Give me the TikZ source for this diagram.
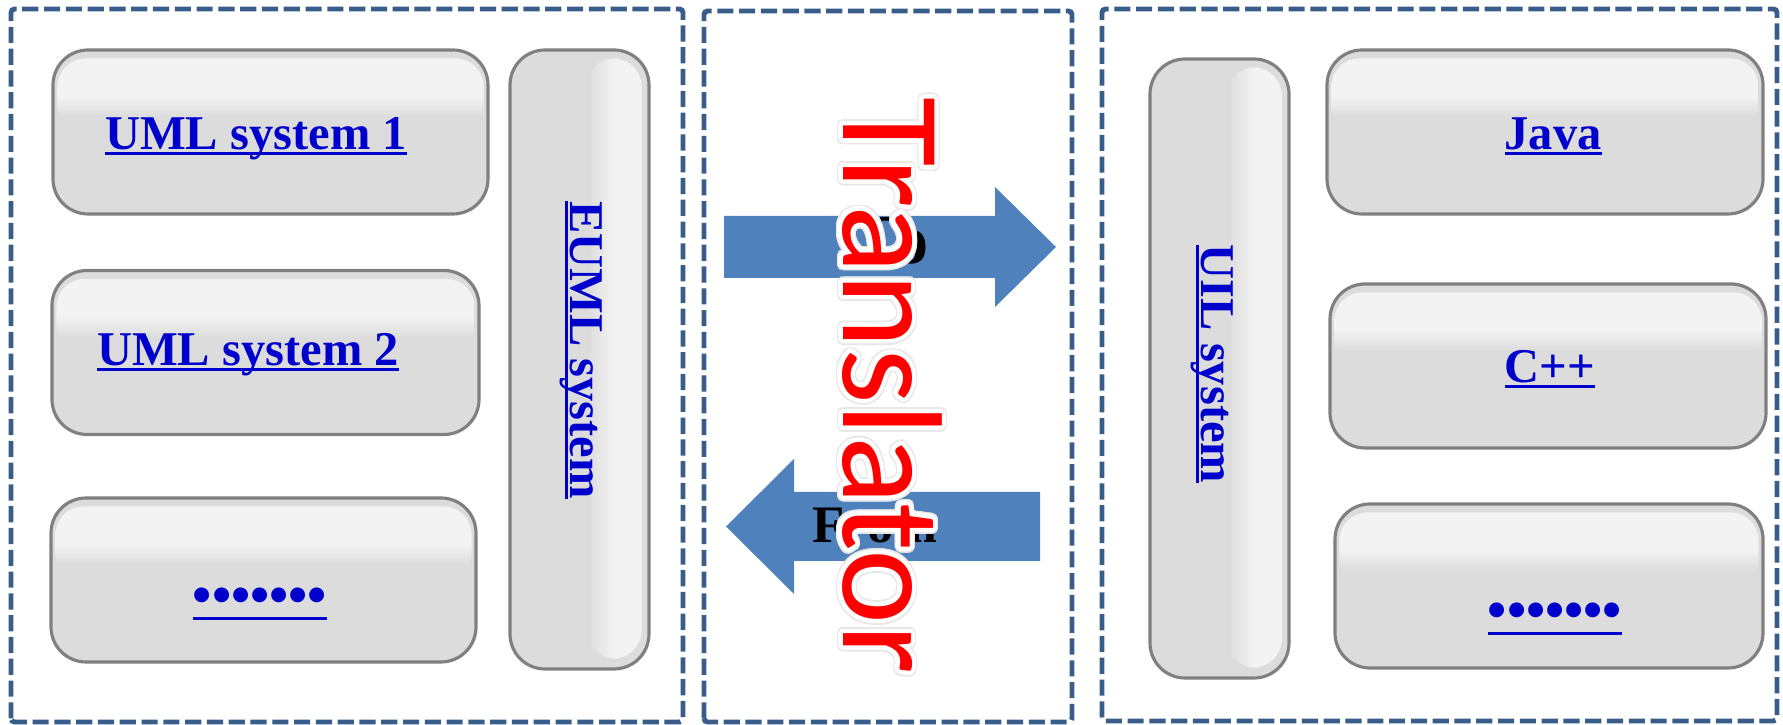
\documentclass[tikz,border=0pt]{standalone}
\usepackage{fontspec}
\setmainfont{Liberation Serif}
\newfontfamily\trfont{Carlito}
\usepackage{contour}
\contourlength{1.2pt}
\contournumber{32}
\definecolor{boxfill}{RGB}{220,220,220}
\definecolor{glosstop}{RGB}{243,243,243}
\definecolor{boxline}{RGB}{128,128,128}
\definecolor{frameblue}{RGB}{56,93,138}
\definecolor{arrowblue}{RGB}{79,129,189}
\definecolor{linkblue}{RGB}{0,0,204}
\pgfdeclareverticalshading{glossv}{100bp}{color(0bp)=(boxfill); color(36bp)=(boxfill); color(50bp)=(glosstop); color(100bp)=(glosstop)}
\pgfdeclarehorizontalshading{glossh}{100bp}{color(0bp)=(boxfill); color(26bp)=(boxfill); color(50bp)=(glosstop); color(100bp)=(glosstop)}
\newcommand\linktext[1]{\setbox0\hbox{#1}\rlap{\rule[-0.11em]{\wd0}{0.06em}}\box0}
\tikzset{
  sysbox/.style={draw=boxline, line width=0.9pt, fill=boxfill, rounded corners=0.35cm, inner sep=0pt},
  widebox/.style={sysbox, minimum width=4.35cm, minimum height=1.64cm},
  tallbox/.style={sysbox, minimum width=1.39cm, minimum height=6.19cm},
  frame/.style={draw=frameblue, line width=1.4pt, dash pattern=on 4.6pt off 1.6pt, rounded corners=1pt},
  link/.style={text=linkblue, font=\fontsize{13.8}{16}\selectfont\bfseries, inner sep=0pt, anchor=base},
  dots/.style={link, font=\fontsize{15.6}{18}\selectfont\bfseries}
}
\begin{document}
\begin{tikzpicture}
        \useasboundingbox (0,0) rectangle (17.83,7.25);
        %% frames
        \draw[frame] (0.11,0.03) rectangle (6.83,7.16);
        \draw[frame] (7.04,0.03) rectangle (10.72,7.14);
        \draw[frame] (11.02,0.04) rectangle (17.77,7.16);
        %% uml side
        \node[widebox] (uml1) at (2.705,5.93) {};
        \node[widebox, minimum width=4.27cm] (uml2) at (2.655,3.725) {};
        \node[widebox, minimum width=4.25cm] (umlmore) at (2.635,1.45) {};
        \node[tallbox] (euml) at (5.795,3.655) {};
        %% uil side
        \node[tallbox] (uil) at (12.195,3.565) {};
        \node[widebox, minimum width=4.36cm] (java) at (15.45,5.93) {};
        \node[widebox, minimum width=4.36cm] (cpp) at (15.48,3.59) {};
        \node[widebox, minimum width=4.28cm] (uilmore) at (15.49,1.39) {};
        %% gloss
        \foreach \n in {uml1,uml2,umlmore,java,cpp,uilmore}
            \shade[shading=glossv, rounded corners=0.28cm] ([shift={(0.06,-0.85)}]\n.north west) rectangle ([shift={(-0.06,-0.10)}]\n.north east);
        \foreach \n in {euml,uil}
            \shade[shading=glossh, rounded corners=0.28cm] ([shift={(0.78,0.12)}]\n.south west) rectangle ([shift={(-0.09,-0.10)}]\n.north east);
        %% labels
        \node[link] (uml1txt) at (2.56,5.75) {\linktext{UML system 1}};
        \node[link] (uml2txt) at (2.48,3.59) {\linktext{UML system 2}};
        \node[dots] (umlmoretxt) at (2.60,1.11) {\linktext{•••••••}};
        \node[link, rotate=-90] (eumltxt) at (5.70,3.75) {\linktext{EUML system}};
        \node[link, rotate=-90] (uiltxt) at (12.01,3.61) {\linktext{UIL system}};
        \node[link] (javatxt) at (15.53,5.75) {\linktext{Java}};
        \node[link] (cpptxt) at (15.50,3.42) {\linktext{C++}};
        \node[dots] (uilmoretxt) at (15.55,0.96) {\linktext{•••••••}};
        %% translator arrows
        \fill[arrowblue] (7.24,5.09) -- (9.95,5.09) -- (9.95,5.38) -- (10.56,4.78) -- (9.95,4.18) -- (9.95,4.47) -- (7.24,4.47) -- cycle;
        \fill[arrowblue] (10.40,2.33) -- (7.94,2.33) -- (7.94,2.66) -- (7.26,1.985) -- (7.94,1.31) -- (7.94,1.64) -- (10.40,1.64) -- cycle;
        \node[anchor=base, inner sep=0pt, font=\fontsize{20}{22}\selectfont\bfseries] (to) at (8.91,4.61) {To};
        \node[anchor=base, inner sep=0pt, font=\fontsize{15}{17}\selectfont\bfseries] (from) at (8.75,1.82) {From};
        \node[rotate=-90, anchor=base, inner sep=0pt, text=red, font=\trfont\fontsize{40.5}{44}\selectfont] (trans) at (8.43,3.39)
            {\rlap{\contourlength{1.7pt}\contour{black!9}{\textcolor{black!9}{Translator}}}\contour{white}{Translator}};
    \end{tikzpicture}
\end{document}
